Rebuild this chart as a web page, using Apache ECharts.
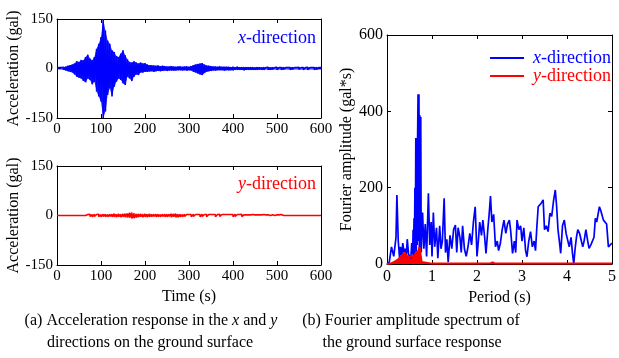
<!DOCTYPE html>
<html>
<head>
<meta charset="utf-8">
<script src="https://cdn.jsdelivr.net/npm/echarts@6/dist/echarts.min.js"></script>
<style>
html,body{margin:0;padding:0;background:#fff;}
#chart{width:619px;height:358px;}
</style>
</head>
<body>
<div id="chart"></div>
<script>
// ---- Data ----
// sample times (s) for the acceleration envelopes
const times = [
  0,5,10,15,20,25,30,35,40,45,
  50,55,60,65,70,75,80,85,90,95,
  100,105,110,115,120,125,130,135,140,145,
  150,155,160,165,170,175,180,185,190,195,
  200,205,210,215,220,225,230,235,240,245,
  250,255,260,265,270,275,280,285,290,295,
  300,305,310,315,320,325,330,335,340,345,
  350,355,360,365,370,375,380,385,390,395,
  400,405,410,415,420,425,430,435,440,445,
  450,455,460,465,470,475,480,485,490,495,
  500,505,510,515,520,525,530,535,540,545,
  550,555,560,565,570,575,580,585,590,595,
  600
];
// x-direction acceleration: upper / lower excursions (gal)
const xUp = [
  2,3,3,4,5,8,10,12,15,22,
  20,26,25,35,42,30,25,35,60,75,
  95,150,115,85,75,55,50,38,35,45,
  55,40,28,20,18,22,18,15,18,15,
  16,12,10,10,9,8,9,7,8,7,
  6,6,7,6,5,6,6,5,6,6,
  5,7,10,12,14,15,16,12,9,8,
  7,6,6,5,6,5,5,5,5,4,
  5,4,5,4,4,4,4,4,4,4,
  3,4,4,3,4,3,4,3,4,3,
  4,3,3,4,3,3,3,4,3,3,
  4,3,3,3,4,3,3,3,4,3,
  3
];
const xLo = [
  -2,-3,-3,-4,-6,-8,-10,-12,-18,-25,
  -28,-30,-38,-42,-30,-35,-48,-40,-70,-85,
  -100,-150,-130,-80,-60,-85,-55,-40,-30,-35,
  -45,-50,-25,-30,-38,-25,-18,-20,-12,-12,
  -10,-10,-9,-8,-10,-8,-7,-8,-7,-6,
  -7,-6,-6,-6,-6,-5,-5,-6,-5,-6,
  -5,-6,-10,-12,-15,-18,-20,-14,-10,-8,
  -7,-6,-6,-5,-5,-5,-6,-5,-5,-5,
  -5,-4,-4,-4,-4,-5,-4,-4,-4,-4,
  -4,-4,-3,-4,-4,-3,-4,-4,-3,-3,
  -4,-3,-4,-3,-3,-3,-4,-3,-3,-3,
  -3,-3,-4,-3,-4,-3,-3,-4,-3,-3,
  -3
];
// y-direction acceleration: upper / lower excursions (gal)
const yUp = [
  0,0,0,0,0,0,0,0,0,0,
  0,0,0,0,3,4,3,4,3,4,
  3,4,4,3,4,4,5,4,5,4,
  5,5,6,8,9,7,5,5,5,4,
  5,4,5,4,4,4,4,3,4,4,
  4,4,5,5,5,4,4,3,4,3,
  3,3,4,3,3,3,4,3,3,3,
  3,3,3,3,4,3,3,3,3,3,
  3,4,3,3,4,2,2,2,2,3,
  2,2,2,2,3,2,2,0,2,0,
  2,2,3,0,0,0,0,0,0,0,
  0,0,0,0,0,0,0,0,0,0,
  0
];
const yLo = [
  0,0,0,0,0,0,0,0,0,0,
  0,0,0,0,-3,-3,-4,-3,-3,-4,
  -4,-3,-4,-4,-3,-4,-4,-5,-4,-5,
  -4,-5,-6,-7,-9,-8,-6,-5,-4,-5,
  -4,-5,-4,-4,-3,-4,-4,-4,-3,-4,
  -4,-3,-5,-4,-5,-5,-4,-4,-3,-3,
  -3,-4,-3,-3,-3,-4,-3,-3,-4,-3,
  -3,-3,-4,-3,-3,-3,-3,-3,-3,-3,
  -4,-3,-3,-3,-3,-2,-2,-3,-2,-2,
  -2,-3,-2,-2,-2,-2,-2,0,-2,0,
  -2,-2,-2,0,0,0,0,0,0,0,
  0,0,0,0,0,0,0,0,0,0,
  0
];
// Fourier amplitude spectrum, x-direction
const periodsX = [
  0,0.05,0.10,0.15,0.20,0.22,0.25,0.28,0.30,0.33,0.35,0.38,0.40,0.43,0.45,0.48,0.50,0.53,0.55,
  0.57,0.58,0.59,0.60,0.61,0.62,0.63,0.64,0.65,0.66,0.67,0.68,0.69,0.70,0.71,0.72,0.73,0.74,0.75,0.76,
  0.79,0.82,0.85,0.88,0.92,0.95,0.98,1.00,1.03,1.06,1.10,1.13,1.17,1.20,1.23,1.27,
  1.30,1.33,1.36,1.40,1.44,1.48,1.52,1.55,1.58,1.62,1.65,1.68,1.72,1.76,1.80,
  1.84,1.88,1.92,1.96,2.00,2.03,2.06,2.10,2.13,2.17,2.20,2.24,2.27,2.30,2.33,
  2.37,2.41,2.45,2.48,2.52,2.56,2.60,2.64,2.68,2.72,2.75,2.79,2.83,2.86,2.89,
  2.93,2.97,3.00,3.04,3.08,3.11,3.15,3.19,3.23,3.27,3.30,3.33,3.36,3.40,3.43,
  3.47,3.50,3.54,3.58,3.62,3.66,3.70,3.74,3.77,3.80,3.83,3.86,3.90,3.94,3.98,
  4.02,4.05,4.09,4.12,4.15,4.18,4.21,4.24,4.28,4.31,4.35,4.38,4.42,4.46,4.49,
  4.53,4.57,4.60,4.63,4.66,4.69,4.72,4.75,4.78,4.81,4.85,4.88,4.92,4.96,5.00
];
const ampX = [
  0,5,45,20,70,181,60,15,45,20,55,30,40,20,65,25,30,15,55,
  25,90,20,120,25,200,40,330,30,330,50,330,445,60,445,40,390,60,385,30,
  135,40,105,20,185,50,110,20,135,45,95,15,100,40,60,172,
  30,65,5,75,40,90,102,30,95,70,30,100,40,20,45,
  80,50,110,150,20,60,110,75,115,70,28,90,130,178,110,
  130,45,60,35,55,90,115,80,105,115,85,28,60,30,115,
  90,100,60,95,35,19,60,85,45,60,35,97,150,145,160,
  168,90,100,85,133,125,165,194,150,90,60,28,100,115,80,
  60,45,70,30,0,40,70,90,80,65,45,60,90,60,41,
  50,45,70,120,110,130,150,140,135,115,120,105,45,40,55
];
// Fourier amplitude spectrum, y-direction
const periodsY = [0,0.10,0.15,0.20,0.25,0.30,0.35,0.39,0.42,0.45,0.50,0.55,0.60,0.65,0.70,0.72,0.74,0.77,0.80,1.00,1.50,2.00,2.30,2.35,2.40,3.00,4.00,5.00];
const ampY = [0,2,5,8,12,18,24,30,25,20,18,22,20,30,35,45,30,5,2,1,1,1,2,4,1,1,1,1];

// ---- build series data ----
function zigzag(t, up, lo) {
  const out = [];
  for (let i = 0; i < t.length; i++) {
    out.push([t[i], up[i]]);
    out.push([t[i], lo[i]]);
  }
  return out;
}
const pairs = (a, b) => a.map((v, i) => [v, b[i]]);

const FONT = "'Liberation Serif', 'Times New Roman', serif";
const BLUE = '#0000ff', RED = '#ff0000';

function xAx(grid, min, max, interval, opts) {
  return Object.assign({
    type: 'value', gridIndex: grid, min: min, max: max, interval: interval,
    axisLine: { onZero: false, lineStyle: { color: '#000', width: 1 } },
    axisTick: { inside: true, length: 4, lineStyle: { color: '#000' } },
    axisLabel: { color: '#000', fontSize: 15, fontFamily: FONT, margin: 4 },
    splitLine: { show: false }
  }, opts || {});
}
function yAx(grid, min, max, interval, opts) {
  return Object.assign({
    type: 'value', gridIndex: grid, min: min, max: max, interval: interval,
    axisLine: { onZero: false, lineStyle: { color: '#000', width: 1 } },
    axisTick: { inside: true, length: 4, lineStyle: { color: '#000' } },
    axisLabel: { color: '#000', fontSize: 15, fontFamily: FONT, margin: 4 },
    splitLine: { show: false }
  }, opts || {});
}
const nameStyle = { color: '#000', fontSize: 16, fontFamily: FONT };

const chart = echarts.init(document.getElementById('chart'), null, { renderer: 'canvas' });
chart.setOption({
  animation: false,
  backgroundColor: '#fff',
  grid: [
    { left: 57, top: 19, width: 264, height: 99 },
    { left: 57, top: 166, width: 264, height: 99 },
    { left: 387, top: 35, width: 230, height: 229 }
  ],
  xAxis: [
    xAx(0, 0, 600, 100),
    xAx(0, 0, 600, 100, { position: 'top', axisLabel: { show: false } }),
    xAx(1, 0, 600, 100, { name: 'Time (s)', nameLocation: 'middle', nameGap: 24, nameTextStyle: nameStyle }),
    xAx(1, 0, 600, 100, { position: 'top', axisLabel: { show: false } }),
    xAx(2, 0, 5, 1, { name: 'Period (s)', nameLocation: 'middle', nameGap: 24, nameTextStyle: nameStyle,
      axisLabel: { color: '#000', fontSize: 16, fontFamily: FONT, margin: 5 } }),
    xAx(2, 0, 5, 1, { position: 'top', axisLabel: { show: false } })
  ],
  yAxis: [
    yAx(0, -150, 150, 150, { name: 'Acceleration (gal)', nameLocation: 'middle', nameGap: 33, nameTextStyle: nameStyle }),
    yAx(0, -150, 150, 150, { position: 'right', axisLabel: { show: false } }),
    yAx(1, -150, 150, 150, { name: 'Acceleration (gal)', nameLocation: 'middle', nameGap: 33, nameTextStyle: nameStyle }),
    yAx(1, -150, 150, 150, { position: 'right', axisLabel: { show: false } }),
    yAx(2, 0, 600, 200, { name: 'Fourier amplitude (gal*s)', nameLocation: 'middle', nameGap: 31, nameTextStyle: nameStyle,
      axisLabel: { color: '#000', fontSize: 16, fontFamily: FONT, margin: 4 } }),
    yAx(2, 0, 600, 200, { position: 'right', axisLabel: { show: false } })
  ],
  legend: {
    right: 3, top: 44, orient: 'vertical', align: 'left',
    itemGap: 0, itemWidth: 34, itemHeight: 2, icon: 'rect',
    selectedMode: false,
    data: [{ name: 'x-direction' }, { name: 'y-direction' }],
    formatter: function (name) {
      return name === 'x-direction' ? '{xi|x}{xr|-direction}' : '{yi|y}{yr|-direction}';
    },
    textStyle: {
      fontSize: 18, fontFamily: FONT, lineHeight: 18, padding: [0, 0, 0, 4],
      rich: {
        xi: { color: BLUE, fontStyle: 'italic', fontSize: 18, fontFamily: FONT },
        xr: { color: BLUE, fontSize: 18, fontFamily: FONT },
        yi: { color: RED, fontStyle: 'italic', fontSize: 18, fontFamily: FONT },
        yr: { color: RED, fontSize: 18, fontFamily: FONT }
      }
    }
  },
  series: [
    // filled core of the x-direction record (envelope to zero)
    { type: 'line', name: 'acc-x-up', xAxisIndex: 0, yAxisIndex: 0, data: pairs(times, xUp),
      showSymbol: false, lineStyle: { width: 0 }, areaStyle: { color: BLUE, opacity: 0.85 }, itemStyle: { color: BLUE } },
    { type: 'line', name: 'acc-x-lo', xAxisIndex: 0, yAxisIndex: 0, data: pairs(times, xLo),
      showSymbol: false, lineStyle: { width: 0 }, areaStyle: { color: BLUE, opacity: 0.85 }, itemStyle: { color: BLUE } },
    { type: 'line', name: 'acc-x', xAxisIndex: 0, yAxisIndex: 0, data: zigzag(times, xUp, xLo),
      showSymbol: false, lineStyle: { color: BLUE, width: 1.6 }, itemStyle: { color: BLUE } },
    { type: 'line', name: 'acc-y', xAxisIndex: 2, yAxisIndex: 2, data: zigzag(times, yUp, yLo),
      showSymbol: false, lineStyle: { color: RED, width: 1.6 }, itemStyle: { color: RED } },
    { type: 'line', name: 'x-direction', xAxisIndex: 4, yAxisIndex: 4, data: pairs(periodsX, ampX),
      showSymbol: false, lineStyle: { color: BLUE, width: 1.7 }, itemStyle: { color: BLUE } },
    { type: 'line', name: 'y-direction', xAxisIndex: 4, yAxisIndex: 4, data: pairs(periodsY, ampY),
      showSymbol: false, lineStyle: { color: RED, width: 2 }, itemStyle: { color: RED },
      areaStyle: { color: RED, opacity: 1 } }
  ],
  graphic: [
    { type: 'text', x: 316, y: 38, style: { text: '{i|x}-direction', align: 'right', verticalAlign: 'middle',
      fill: BLUE, fontSize: 18, fontFamily: FONT,
      rich: { i: { fontStyle: 'italic', fill: BLUE, fontSize: 18, fontFamily: FONT } } } },
    { type: 'text', x: 316, y: 184, style: { text: '{i|y}-direction', align: 'right', verticalAlign: 'middle',
      fill: RED, fontSize: 18, fontFamily: FONT,
      rich: { i: { fontStyle: 'italic', fill: RED, fontSize: 18, fontFamily: FONT } } } },
    { type: 'text', x: 151, y: 321, style: { text: '(a) Acceleration response in the {i|x} and {i|y}',
      align: 'center', verticalAlign: 'middle', fill: '#000', fontSize: 16, fontFamily: FONT,
      rich: { i: { fontStyle: 'italic', fill: '#000', fontSize: 16, fontFamily: FONT } } } },
    { type: 'text', x: 150, y: 343, style: { text: 'directions on the ground surface',
      align: 'center', verticalAlign: 'middle', fill: '#000', fontSize: 16, fontFamily: FONT } },
    { type: 'text', x: 411, y: 321, style: { text: '(b) Fourier amplitude spectrum of',
      align: 'center', verticalAlign: 'middle', fill: '#000', fontSize: 16, fontFamily: FONT } },
    { type: 'text', x: 412, y: 343, style: { text: 'the ground surface response',
      align: 'center', verticalAlign: 'middle', fill: '#000', fontSize: 16, fontFamily: FONT } }
  ]
});
</script>
</body>
</html>
